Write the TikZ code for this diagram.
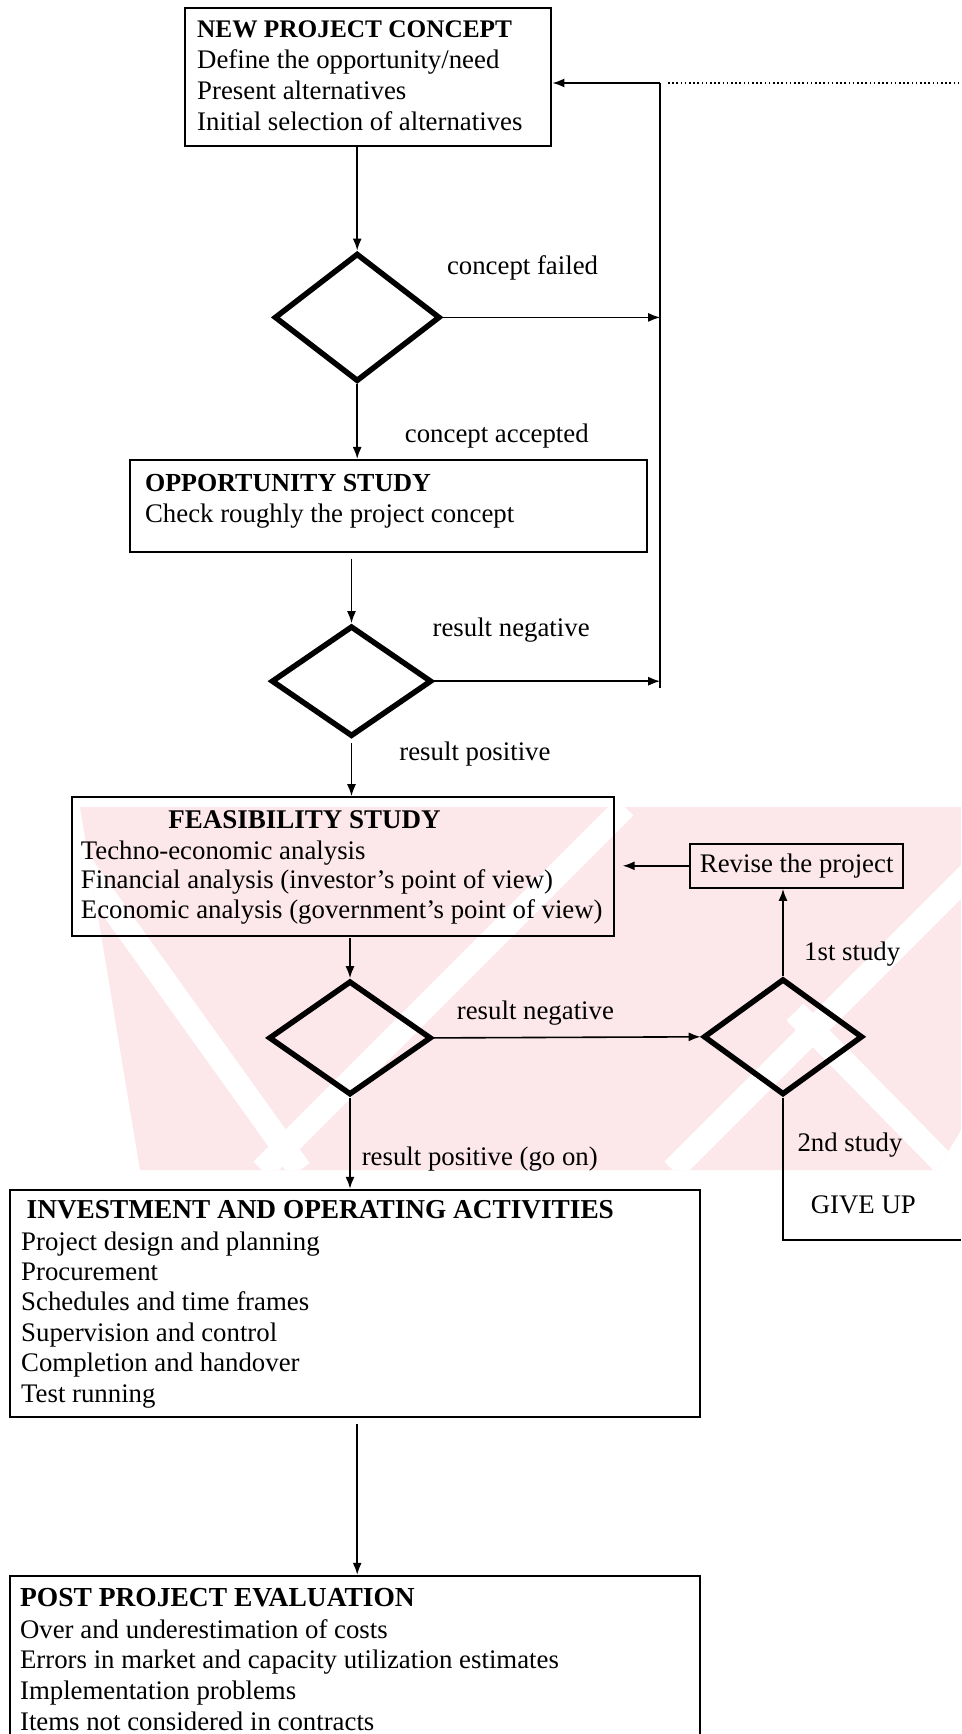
\documentclass[tikz,border=0pt]{standalone}
\usepackage{fontspec}
\setmainfont{Liberation Serif}
\usetikzlibrary{shapes.geometric,arrows.meta}
\definecolor{wm}{RGB}{252,231,235}
\tikzset{
  box/.style={draw, line width=2pt, rectangle, inner sep=0pt, anchor=north west},
  dia/.style={draw, diamond, line width=5.5pt, inner sep=0pt},
  arr/.style={line width=1.6pt, -{Latex[length=12pt,width=9pt]}},
  conn/.style={line width=1.6pt},
  txt/.style={anchor=base west, inner sep=0pt, font=\fontsize{26.8}{30}\selectfont},
  ttl/.style={anchor=base west, inner sep=0pt, font=\fontsize{#1}{30}\selectfont\bfseries},
  stripe/.style={white, line width=24pt},
}
\begin{document}
\begin{tikzpicture}[x=1pt,y=-1pt]
\clip (0,0) rectangle (961,1734);
\fill[white] (0,0) rectangle (961,1734);
% watermark
\begin{scope}
  \clip (80,807) -- (961,807) -- (961,1130) -- (937,1170) -- (140,1170) -- cycle;
  \fill[wm] (0,790) rectangle (961,1190);
  \draw[stripe] (625,807) -- (262,1170);
  \draw[stripe] (1036,807) -- (673,1170);
  \draw[stripe] (40,807) -- (300,1170);
  \draw[stripe] (795,1012) -- (960,1180);
\end{scope}

% boxes
\node[box, line width=2.4pt, minimum width=366pt, minimum height=138pt] (top) at (184,7) {};
\node[box, minimum width=516.4pt, minimum height=91.8pt] (opp) at (129.4,458.9) {};
\node[box, minimum width=541.9pt, minimum height=138.3pt] (feas) at (70.8,796.2) {};
\node[box, minimum width=690.1pt, minimum height=226.8pt] (inv) at (8.8,1188.8) {};
\node[box, minimum width=690.1pt, minimum height=200pt] (post) at (8.8,1574.8) {};
\node[box, minimum width=213.4pt, minimum height=44.2pt, font=\fontsize{26.8}{30}\selectfont] (rev) at (689,842.7) {Revise the project};

% diamonds
\node[dia, minimum width=165.8pt, minimum height=128.2pt] (d1) at (357.2,317.4) {};
\node[dia, minimum width=160.4pt, minimum height=110.6pt] (d2) at (351.5,681.2) {};
\node[dia, minimum width=162.6pt, minimum height=114pt] (d3) at (350,1037.9) {};
\node[dia, minimum width=159.2pt, minimum height=116pt] (d4) at (783,1036.8) {};

% box texts
\node[ttl=25.3] (topT) at (197,38) {NEW PROJECT CONCEPT};
\foreach \s [count=\i from 0] in {Define the opportunity/need, Present alternatives, Initial selection of alternatives}
  \node[txt] (topL\i) at (197,{69+31*\i}) {\s};

\node[ttl=26] (oppT) at (144.9,491) {OPPORTUNITY STUDY};
\node[txt] (oppL) at (144.9,522) {Check roughly the project concept};

\node[ttl=27] (feasT) at (168.1,828) {FEASIBILITY STUDY};
\foreach \s [count=\i from 0] in {Techno-economic analysis, Financial analysis (investor's point of view), Economic analysis (government's point of view)}
  \node[txt] (feasL\i) at (80.7,{859.5+29.4*\i}) {\s};

\node[ttl=27.3] (invT) at (26.5,1218) {INVESTMENT AND OPERATING ACTIVITIES};
\foreach \s [count=\i from 0] in {Project design and planning, Procurement, Schedules and time frames, Supervision and control, Completion and handover, Test running}
  \node[txt] (invL\i) at (21,{1250+30.4*\i}) {\s};

\node[ttl=27.5] (postT) at (19.9,1606) {POST PROJECT EVALUATION};
\foreach \s [count=\i from 0] in {Over and underestimation of costs, Errors in market and capacity utilization estimates, Implementation problems, Items not considered in contracts}
  \node[txt] (postL\i) at (19.9,{1638+30.7*\i}) {\s};

% labels
\node[txt] (lcf) at (446.8,274.5) {concept failed};
\node[txt] (lca) at (404.7,442.6) {concept accepted};
\node[txt] (lrn1) at (432.4,636) {result negative};
\node[txt] (lrp1) at (399.2,760) {result positive};
\node[txt] (lrn2) at (456.7,1019) {result negative};
\node[txt] (lrp2) at (361.6,1165) {result positive (go on)};
\node[txt] (l1st) at (804,960) {1st study};
\node[txt] (l2nd) at (797.3,1151.5) {2nd study};
\node[txt] (lgu) at (810.6,1213) {GIVE UP};

% feedback line
\coordinate (fbt) at (660.2,83);
\coordinate (fbb) at (660.2,688);
\coordinate (dote) at (961,83);
\coordinate (dots) at (668,83);
\draw[conn] (fbb) -- (fbt);
\draw[arr] (fbt) -- (top.east |- fbt);
\draw[line width=1.6pt, dash pattern=on 1.6pt off 2.6pt] (dots) -- (dote);

% connectors
\draw[arr] (d1.north |- top.south) -- (d1.north);
\draw[arr] (d1.east) -- (fbt |- d1.east);
\draw[arr] (d1.south) -- (d1.south |- opp.north);
\coordinate (o2) at (351.5,558.5);
\draw[arr] (o2) -- (d2.north);
\draw[arr] (d2.east) -- (fbt |- d2.east);
\coordinate (o3) at (351.5,743);
\draw[arr] (o3) -- (o3 |- feas.north);
\coordinate (o4) at (350,937.8);
\draw[arr] (o4) -- (d3.north);
\draw[arr] (d3.east) -- (d4.west);
\draw[arr] (d3.south) -- (d3.south |- inv.north);
\draw[arr] (d4.north) -- (d4.north |- rev.south);
\draw[arr, shorten >=8pt] (rev.west) -- (feas.east |- rev.west);
\coordinate (gue) at (961,1239.7);
\draw[conn] (d4.south) -- (d4.south |- gue) -- (gue);
\coordinate (o5) at (357.2,1424);
\draw[arr] (o5) -- (o5 |- post.north);
\end{tikzpicture}
\end{document}
